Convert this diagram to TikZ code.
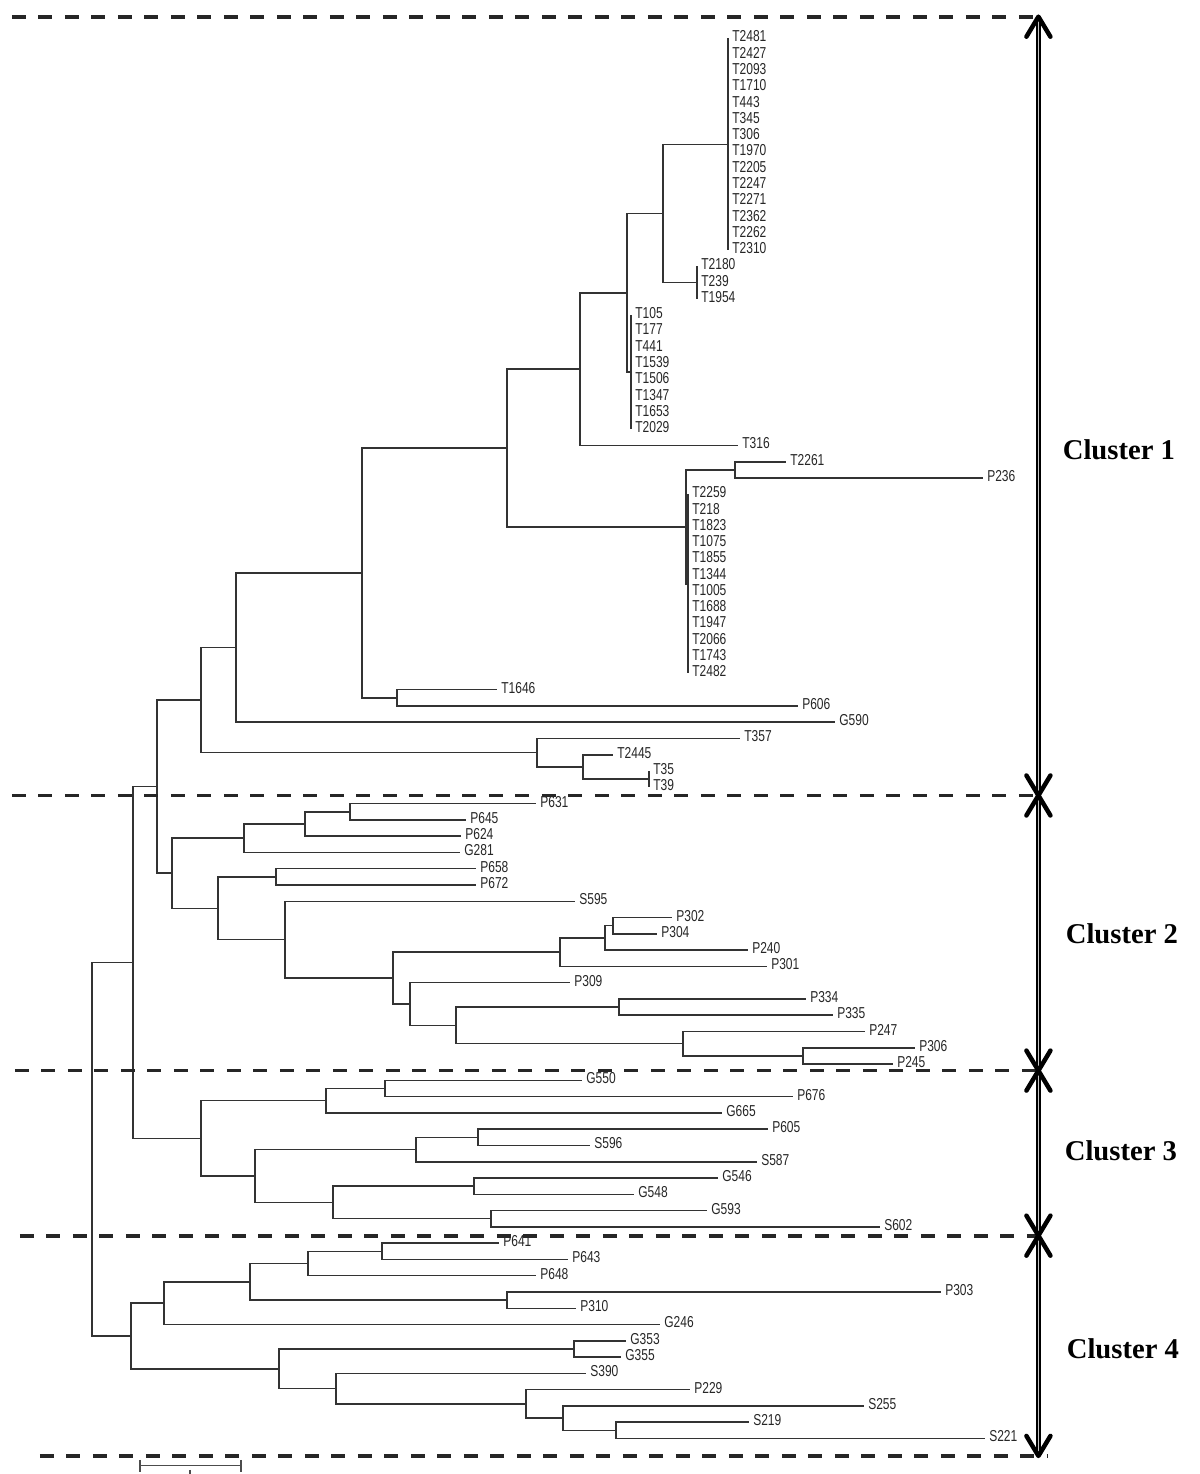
\documentclass[tikz,border=0pt]{standalone}
\usepackage{fontspec}
\newfontfamily\labfont[FakeStretch=0.76]{Liberation Sans}
\newfontfamily\clusterfont{Liberation Serif}
\usetikzlibrary{arrows.meta}

\tikzset{
  branch/.style={draw=black!80, line width=0.3mm},
  leaf/.style={anchor=west, inner sep=0pt, xshift=0.8mm, yshift=0.4mm, text=black!85,
    font=\labfont\fontsize{9}{10}\selectfont},
  divider/.style={draw=black!85, line width=0.75mm, dash pattern=on 2.8mm off 2.5mm},
  shaft/.style={line width=0.45mm, double=gray!45, double distance=0.25mm},
  chevron/.style={line width=0.9mm, line cap=round, line join=round},
  clusterlab/.style={font=\clusterfont\bfseries\fontsize{16.3}{18}\selectfont},
  scalebar/.style={draw=black!70, line width=0.25mm}
}

\begin{document}
\begin{tikzpicture}[x=0.2mm, y=-3.256mm]
  \useasboundingbox (0,-2.3649) rectangle (1200,88.1818);
  %% Leaves: one row each, tip position in x
  \foreach \lab/\x [count=\i from 0] in {
    T2481/728, T2427/728, T2093/728, T1710/728, T443/728, T345/728, T306/728,
    T1970/728, T2205/728, T2247/728, T2271/728, T2362/728, T2262/728, T2310/728,
    T2180/697, T239/697, T1954/697,
    T105/631, T177/631, T441/631, T1539/631, T1506/631, T1347/631, T1653/631, T2029/631,
    T316/738, T2261/786, P236/983,
    T2259/688, T218/688, T1823/688, T1075/688, T1855/688, T1344/688,
    T1005/688, T1688/688, T1947/688, T2066/688, T1743/688, T2482/688,
    T1646/497, P606/798, G590/835, T357/740, T2445/613, T35/649, T39/649,
    P631/536, P645/466, P624/461, G281/460, P658/476, P672/476, S595/575,
    P302/672, P304/657, P240/748, P301/767, P309/570, P334/806, P335/833,
    P247/865, P306/915, P245/893,
    G550/582, P676/793, G665/722, P605/768, S596/590, S587/757,
    G546/718, G548/634, G593/707, S602/880,
    P641/499, P643/568, P648/536, P303/941, P310/576, G246/660, G353/626,
    G355/621, S390/586, P229/690, S255/864, S219/749, S221/985}
  {
    \coordinate (\lab) at (\x,\i);
    \node[leaf] (l\lab) at (\lab) {\lab};
  }
  %% Inner nodes of the tree
  \foreach \n/\x/\y in {
    cA/728/6.5, cB/697/15, cAB/663/10.75, cC/631/20.5, cD/627/15.625,
    cE/580/20.3125, cI/735/26.5, cH/688/33.5, cG/686/30, cF/507/25.156,
    cJb/397/40.5, cJ/362/32.828, cK/236/37.414, cMa/649/45.5, cMb/583/44.75,
    cMc/537/43.875, cL/201/40.645,
    cS/350/47.5, cR/305/48.25, cQ/244/49.125, cTa/276/51.5, cY/613/54.5,
    cX/605/55.25, cW/560/56.125, cPa/619/59.5, cPd/803/62.5, cPc/683/61.75,
    cPb/456/60.625, cZ/410/59.3125, cV/393/57.719, cU/285/55.359,
    cT/218/53.43, cN/172/51.277, cM/157/45.961,
    cBB/385/64.5, cBA/326/65.25, cBE/478/67.5, cBD/416/68.25, cBG/474/70.5,
    cBH/491/72.5, cBF/333/71.5, cBC/255/69.875, cBX/201/67.5625, cO/133/56.762,
    cCE/382/74.5, cCD/308/75.25, cCF/507/77.5, cCC/250/76.375, cCB/164/77.6875,
    cCH/574/80.5, cCL/616/85.5, cCK/563/84.75, cCJ/526/83.875, cCI/336/82.9375,
    cCG/279/81.71875, cCA/131/79.703, cRoot/92/68.23}
    \coordinate (\n) at (\x,\y);
  %% Near-zero clades
  \foreach \c in {T2481, T2427, T2093, T1710, T443, T345, T306, T1970, T2205,
    T2247, T2271, T2362, T2262, T2310}
    \draw[branch] (cA) |- (\c);
  \foreach \c in {T2180, T239, T1954}
    \draw[branch] (cB) |- (\c);
  \foreach \c in {T105, T177, T441, T1539, T1506, T1347, T1653, T2029}
    \draw[branch] (cC) |- (\c);
  \foreach \c in {T2259, T218, T1823, T1075, T1855, T1344, T1005, T1688,
    T1947, T2066, T1743, T2482}
    \draw[branch] (cH) |- (\c);
  %% Branches, parent/child
  \foreach \p/\c in {
    cAB/cA, cAB/cB, cD/cAB, cD/cC, cE/cD, cE/T316, cI/T2261, cI/P236,
    cG/cI, cG/cH, cF/cE, cF/cG, cJb/T1646, cJb/P606, cJ/cF, cJ/cJb,
    cK/cJ, cK/G590, cMa/T35, cMa/T39, cMb/T2445, cMb/cMa, cMc/T357, cMc/cMb,
    cL/cK, cL/cMc,
    cS/P631, cS/P645, cR/cS, cR/P624, cQ/cR, cQ/G281, cTa/P658, cTa/P672,
    cY/P302, cY/P304, cX/cY, cX/P240, cW/cX, cW/P301, cPa/P334, cPa/P335,
    cPd/P306, cPd/P245, cPc/P247, cPc/cPd, cPb/cPa, cPb/cPc, cZ/P309, cZ/cPb,
    cV/cW, cV/cZ, cU/S595, cU/cV, cT/cTa, cT/cU, cN/cQ, cN/cT, cM/cL, cM/cN,
    cBB/G550, cBB/P676, cBA/cBB, cBA/G665, cBE/P605, cBE/S596, cBD/cBE,
    cBD/S587, cBG/G546, cBG/G548, cBH/G593, cBH/S602, cBF/cBG, cBF/cBH,
    cBC/cBD, cBC/cBF, cBX/cBA, cBX/cBC, cO/cM, cO/cBX,
    cCE/P641, cCE/P643, cCD/cCE, cCD/P648, cCF/P303, cCF/P310, cCC/cCD,
    cCC/cCF, cCB/cCC, cCB/G246, cCH/G353, cCH/G355, cCL/S219, cCL/S221,
    cCK/S255, cCK/cCL, cCJ/P229, cCJ/cCK, cCI/S390, cCI/cCJ, cCG/cCH,
    cCG/cCI, cCA/cCB, cCA/cCG, cRoot/cO, cRoot/cCA}
    \draw[branch] (\p) |- (\c);
  %% Dashed cluster borders
  \draw[divider] (12,-1.34) -- (1042,-1.34);
  \draw[divider] (12,46.5) -- (1045,46.5);
  \draw[divider] (15,63.4) -- (1045,63.4);
  \draw[divider] (20,73.54) -- (1048,73.54);
  \draw[divider] (40,87.07) -- (1048,87.07);
  %% Cluster arrows
  \coordinate (b0) at (1038.5,-1.34);
  \coordinate (b1) at (1038.5,46.5);
  \coordinate (b2) at (1038.5,63.4);
  \coordinate (b3) at (1038.5,73.54);
  \coordinate (b4) at (1038.5,87.07);
  \foreach \a/\b in {b0/b1, b1/b2, b2/b3, b3/b4} {
    \draw[shaft] (\a) -- (\b);
    \draw[chevron] ([shift={(-2.4mm,-4mm)}]\a) -- (\a) -- ([shift={(2.4mm,-4mm)}]\a);
    \draw[chevron] ([shift={(-2.4mm,4mm)}]\b) -- (\b) -- ([shift={(2.4mm,4mm)}]\b);
  }
  \node[clusterlab] (clu1) at (1119,25.28) {Cluster 1};
  \node[clusterlab] (clu2) at (1122,55.0) {Cluster 2};
  \node[clusterlab] (clu3) at (1121,68.33) {Cluster 3};
  \node[clusterlab] (clu4) at (1123,80.5) {Cluster 4};
  %% Scale bar
  \coordinate (s0) at (140,87.68);
  \coordinate (s1) at (241,87.68);
  \draw[scalebar] (s0) -- (s1);
  \draw[scalebar] ([yshift=1.2mm]s0) -- ([yshift=-1.2mm]s0);
  \draw[scalebar] ([yshift=1.2mm]s1) -- ([yshift=-1.2mm]s1);
  \draw[scalebar] (190,87.93) -- (190,88.18);
\end{tikzpicture}
\end{document}
